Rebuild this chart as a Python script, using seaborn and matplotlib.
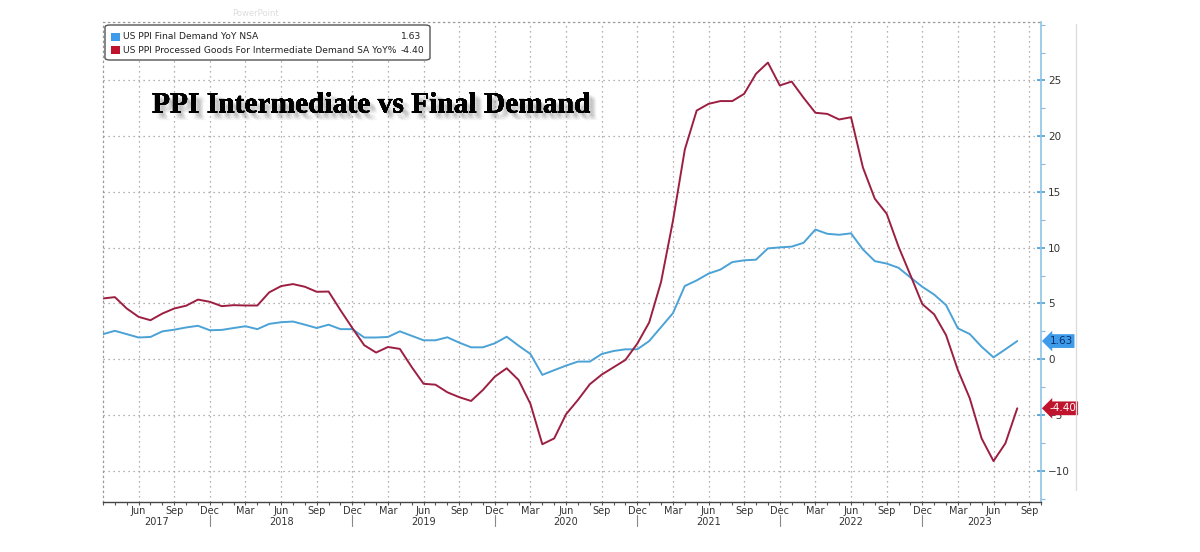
import matplotlib
matplotlib.use("Agg")
import matplotlib.pyplot as plt
import matplotlib.patheffects as pe
from matplotlib.patches import FancyBboxPatch, Rectangle
from matplotlib.lines import Line2D
from matplotlib.transforms import blended_transform_factory
import numpy as np
import pandas as pd
import seaborn as sns

# Monthly YoY %, Mar 2017 .. Aug 2023
start_month = "2017-03"
final_demand = [
    2.25, 2.55, 2.25, 1.95, 2.0, 2.5, 2.65, 2.85, 3.0, 2.6,
    2.63, 2.8, 2.96, 2.7, 3.17, 3.32, 3.38, 3.1, 2.8, 3.1, 2.7, 2.7,
    1.95, 1.95, 2.0, 2.5, 2.1, 1.7, 1.7, 1.97, 1.49, 1.07, 1.07, 1.43,
    2.02, 1.22, 0.47, -1.4, -0.98, -0.57, -0.21, -0.21, 0.47, 0.74, 0.89, 0.89,
    1.63, 2.88, 4.13, 6.57, 7.07, 7.68, 8.04, 8.71, 8.87, 8.93, 9.94, 10.03,
    10.1, 10.44, 11.63, 11.25, 11.16, 11.29, 9.85, 8.8, 8.58, 8.2, 7.34, 6.5,
    5.8, 4.86, 2.77, 2.26, 1.12, 0.17, 0.89, 1.63,
]
intermediate = [
    5.45, 5.57, 4.55, 3.8, 3.5, 4.1, 4.55, 4.8, 5.35, 5.15,
    4.76, 4.85, 4.82, 4.82, 6.0, 6.56, 6.74, 6.5, 6.05, 6.07, 4.4, 2.8,
    1.26, 0.6, 1.1, 0.93, -0.7, -2.2, -2.28, -2.96, -3.4, -3.74, -2.75, -1.56,
    -0.81, -1.86, -4.0, -7.62, -7.1, -4.93, -3.65, -2.24, -1.38, -0.72, -0.06, 1.4,
    3.3, 6.93, 12.4, 18.8, 22.3, 22.9, 23.15, 23.15, 23.8, 25.6, 26.6, 24.55,
    24.9, 23.45, 22.1, 22.0, 21.5, 21.7, 17.2, 14.4, 13.05, 10.1, 7.55, 4.95,
    4.03, 2.17, -0.97, -3.5, -7.1, -9.13, -7.54, -4.40,
]
series_names = [
    "US PPI Final Demand YoY NSA",
    "US PPI Processed Goods For Intermediate Demand SA YoY%",
]
last_values = ["1.63", "-4.40"]
line_colors = ["#4ba2d6", "#9c1f42"]
tag_colors = ["#3d9be9", "#c0142e"]
tag_text_colors = ["#0b2f6b", "white"]
y_ticks = [-10, -5, 0, 5, 10, 15, 20, 25]
title = "PPI Intermediate vs Final Demand"

n = len(final_demand)
df = pd.DataFrame({
    "idx": np.arange(n),
    series_names[0]: final_demand,
    series_names[1]: intermediate,
})
long = df.melt(id_vars="idx", var_name="series", value_name="value")

sns.set_style("white")
plt.rcParams["font.family"] = ["DejaVu Sans"]

W, H = 1200, 552
fig = plt.figure(figsize=(W / 100, H / 100), dpi=100)
fig.patch.set_facecolor("white")
L, R, T, B = 103, 1041, 22, 502
ax = fig.add_axes([L / W, 1 - B / H, (R - L) / W, (B - T) / H])

sns.lineplot(data=long, x="idx", y="value", hue="series", palette=line_colors,
             hue_order=series_names, linewidth=1.4, legend=False, ax=ax)

ax.set_xlim(0, 78.7)
ax.set_ylim(-12.8, 30.24)
ax.set_xlabel("")
ax.set_ylabel("")

# x axis: quarterly month labels, monthly minor ticks
axis_months = pd.period_range(start_month, "2023-10", freq="M")
major_pos = [i for i, p in enumerate(axis_months) if p.month in (3, 6, 9, 12) and i > 0]
major_lab = [axis_months[i].strftime("%b") for i in major_pos]
ax.set_xticks(major_pos)
ax.set_xticklabels(major_lab)
ax.set_xticks(np.arange(len(axis_months)), minor=True)
ax.tick_params(axis="x", which="both", direction="out", length=2.5, width=0.8,
               color="#555555", labelsize=7, labelcolor="#333333", pad=0.5)
ax.tick_params(axis="x", which="both", bottom=True)

# year labels and separators
trans = blended_transform_factory(ax.transData, ax.transAxes)
dec_pos = [i for i, p in enumerate(axis_months) if p.month == 12]
edges = [0] + dec_pos + [78.7]
for k, yr in enumerate(range(2017, 2024)):
    ax.text((edges[k] + edges[k + 1]) / 2, -0.041, str(yr), transform=trans,
            ha="center", va="center", fontsize=7, color="#333333")
for d in dec_pos:
    ax.add_line(Line2D([d, d], [-0.027, -0.05], transform=trans, color="#888888",
                       lw=0.8, clip_on=False))

# y axis on the right
ax.yaxis.tick_right()
ax.set_yticks(y_ticks)
ax.set_yticks(np.arange(-12.5, 30.1, 2.5), minor=True)
ax.tick_params(axis="y", which="major", direction="inout", length=6, width=1.2,
               color="#4a9fd8", labelsize=7.5, labelcolor="#333333", pad=2)
ax.tick_params(axis="y", which="minor", direction="out", length=3, width=0.8,
               color="#8ab8dc")

ax.grid(True, which="major", linestyle=(0, (1, 3)), color="#999999", linewidth=0.9)
for side in ("left", "top"):
    ax.spines[side].set_linestyle((0, (1, 3)))
    ax.spines[side].set_color("#999999")
    ax.spines[side].set_linewidth(0.9)
ax.spines["bottom"].set_color("#444444")
ax.spines["bottom"].set_linewidth(1.0)
ax.spines["right"].set_color("#8ec3e6")
ax.spines["right"].set_linewidth(1.2)

# last value tags
ytrans = blended_transform_factory(ax.transAxes, ax.transData)
for vals, lab, fc, tc in zip([final_demand, intermediate], last_values, tag_colors, tag_text_colors):
    ax.annotate(lab, xy=(1, vals[-1]), xycoords=ytrans, xytext=(6, 0),
                textcoords="offset points", ha="left", va="center", fontsize=7.5,
                color=tc, annotation_clip=False,
                bbox=dict(boxstyle="larrow,pad=0.18", fc=fc, ec="none"))

# legend box
def fx(px):
    return px / W

def fy(py):
    return 1 - py / H

box = FancyBboxPatch((fx(105), fy(60)), fx(430) - fx(105), fy(25) - fy(60),
                     boxstyle="round,pad=0,rounding_size=0.004",
                     transform=fig.transFigure, fc="white", ec="#555555", lw=1.0)
fig.add_artist(box)
for k, (name, lab, fc) in enumerate(zip(series_names, last_values, tag_colors)):
    yc = 36.7 + k * 13.5
    fig.add_artist(Rectangle((fx(111), fy(yc + 4)), fx(9), fy(0) - fy(8),
                             transform=fig.transFigure, fc=fc, ec="none"))
    fig.text(fx(123), fy(yc), name, ha="left", va="center", fontsize=6.6, color="#222222")
    fig.text(fx(401), fy(yc), lab, ha="left", va="center", fontsize=6.6, color="#222222")

# title with a soft drop shadow
offsets = [(1.5, 1.5), (2.5, 2.5), (3.5, 3.5), (4.5, 4.5), (2.5, 4.0),
           (4.0, 2.5), (5.5, 5.5), (3.5, 5.0), (5.0, 3.5)]
shadow = [pe.withSimplePatchShadow(offset=(dx, -dy), shadow_rgbFace="#777777", alpha=0.07)
          for dx, dy in offsets]
fig.text(fx(152), fy(105), title, ha="left", va="center", fontsize=21.2,
         fontweight="bold", family="Liberation Serif", color="black",
         path_effects=shadow + [pe.Normal()])

# faint artifacts from the screenshot
fig.text(fx(232), fy(14), "PowerPoint", ha="left", va="center", fontsize=6,
         color="#dddddd")
fig.add_artist(Line2D([fx(1076), fx(1076)], [fy(24), fy(490)], transform=fig.transFigure,
                      color="#dddddd", lw=1.0))

fig.savefig("out.png", dpi=100, facecolor="white")
